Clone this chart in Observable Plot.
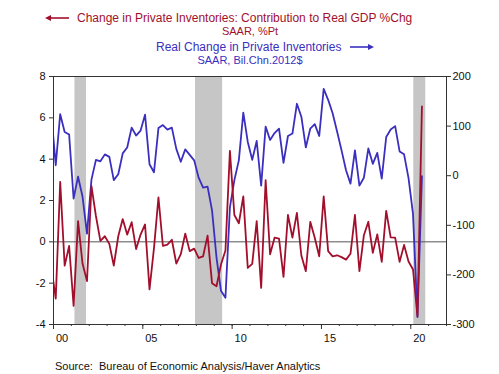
<!DOCTYPE html>
<html>
<head>
<meta charset="utf-8">
<script src="https://cdn.jsdelivr.net/npm/d3@7"></script>
<script src="https://cdn.jsdelivr.net/npm/@observablehq/plot@0.6"></script>
<style>
  html, body { margin: 0; padding: 0; background: #fff; }
  #wrap { position: relative; width: 499px; height: 374px; font-family: "Liberation Sans", Arial, sans-serif; overflow: hidden; }
  #wrap svg.plot { position: absolute; left: 0; top: 0; }
  .t { position: absolute; white-space: nowrap; line-height: 1; }
</style>
</head>
<body>
<div id="wrap"></div>
<script>
// Quarterly observations, first one is 1999 Q4 (clipped at the left edge), last is 2020 Q3
const firstYear = 1999, firstQuarter = 4;

// Change in Private Inventories: Contribution to Real GDP %Chg (SAAR, %Pt) - left axis
const contribution = [
  -1.2,
  -2.75, 2.9, -1.15, -0.2,
  -3.1, 1.0, -1.05, -1.9,
  2.7, 1.25, 0.05, 0.27,
  -0.1, -1.15, 0.27, 1.1,
  0.35, 0.95, -0.35, 0.35,
  0.84, -2.3, -0.3, 2.15,
  -0.2, -0.13, 0.1, -1.05,
  -0.6, 0.4, -0.45, -0.33,
  -0.78, -0.7, 0.3, -2.0,
  -2.15, -1.1, -0.42, 4.4,
  1.3, 0.9, 2.2, -1.26,
  -1.07, 1.0, -2.23, 2.98,
  -0.6, 0.2, 0.16, -1.7,
  1.3, 0.2, 1.4, -0.66,
  -1.42, 0.97, 0.2, -0.7,
  2.2, -0.45, -0.7, -0.65,
  -0.74, -0.86, -0.58, 1.3,
  -1.42, 0.32, 0.97, -0.53,
  0.36, -0.97, 1.5, 0.22,
  0.2, -0.97, -0.15, -0.95,
  -1.34, -3.6, 6.55
];

// Real Change in Private Inventories (SAAR, Bil.Chn.2012$) - right axis
const realChange = [
  126,
  21, 124, 88, 83,
  -46, -2, -42, -117,
  -8, 32, 29, 43,
  38, -9, 3, 45,
  57, 97, 81, 91,
  123, 23, 7, 96,
  102, 93, 97, 54,
  28, 53, 42, 31,
  -4, -24, -22, -70,
  -165, -232, -246, -64,
  -9, 31, 127, 68,
  32, 70, -20, 99,
  72, 86, 95, 26,
  80, 85, 145, 119,
  57, 95, 104, 80,
  175, 153, 126, 89,
  51, 11, -16, 51,
  -20, -4, 55, 24,
  46, -6, 78, 93,
  100, 49, 43, -5,
  -77, -285, -1
];

// Recession periods (decimal years)
const recessionStart = [2001.2, 2007.95, 2020.17];
const recessionEnd   = [2001.85, 2009.47, 2020.84];

// Tick values
const leftTicks  = [-4, -2, 0, 2, 4, 6, 8];
const rightTicks = [-300, -200, -100, 0, 100, 200];
const yearTicks  = [2000, 2005, 2010, 2015, 2020];
const minorYears = d3.range(2000, 2023);

const red = "#a20f2c";
const blue = "#3a2fbf";

// quarter midpoint positions
const t = contribution.map((_, i) => {
  const q = firstQuarter - 1 + i;
  return firstYear + Math.floor(q / 4) + (q % 4) * 0.25 + 0.125;
});
const redData = contribution.map((v, i) => ({t: t[i], v}));
const blueData = realChange.map((v, i) => ({t: t[i], v}));
const recessions = recessionStart.map((s, i) => ({s, e: recessionEnd[i]}));

// right axis (billions) mapped onto the left axis (%pt)
const toLeft = d3.scaleLinear().domain([-300, 200]).range([-4, 8]);

const chart = Plot.plot({
  width: 499,
  height: 374,
  marginTop: 76,
  marginBottom: 50,
  marginLeft: 53,
  marginRight: 53,
  style: {fontFamily: "'Liberation Sans', Arial, sans-serif", fontSize: "11px", color: "#111", background: "white"},
  x: {type: "linear", domain: [2000, 2022]},
  y: {domain: [-4, 8]},
  marks: [
    Plot.rect(recessions, {x1: "s", x2: "e", y1: -4, y2: 8, fill: "#c6c6c6"}),
    Plot.ruleY([0], {stroke: "#555", strokeWidth: 1}),
    Plot.line(blueData, {x: "t", y: d => toLeft(d.v), stroke: blue, strokeWidth: 1.8, clip: true}),
    Plot.line(redData, {x: "t", y: "v", stroke: red, strokeWidth: 1.8, clip: true}),
    Plot.frame({stroke: "#333", strokeWidth: 1}),
    Plot.axisY({anchor: "left", ticks: leftTicks, tickSize: 4, tickPadding: 4, tickFormat: d => d < 0 ? "-" + Math.abs(d) : String(d), label: null, stroke: "#333"}),
    Plot.axisY({anchor: "right", ticks: rightTicks.map(r => toLeft(r)), tickSize: 4, tickPadding: 2,
      tickFormat: d => { const r = Math.round(toLeft.invert(d)); return r < 0 ? "-" + Math.abs(r) : String(r); }, label: null, stroke: "#333"}),
    Plot.axisX({ticks: minorYears, tickSize: 2, text: null, label: null, stroke: "#333"}),
    Plot.axisX({ticks: yearTicks, tickSize: 5, text: null, label: null, stroke: "#333"}),
    Plot.axisX({ticks: yearTicks, tickSize: 0, tickPadding: 10, dx: 8.5,
      tickFormat: d => String(d % 100).padStart(2, "0"), label: null})
  ]
});
chart.classList.add("plot");
const wrap = document.getElementById("wrap");
wrap.appendChild(chart);

function arrowSvg(color, dir) {
  return `<svg width="24" height="8" viewBox="0 0 24 8" style="display:block">` +
    (dir === "left"
      ? `<line x1="4" y1="4" x2="24" y2="4" stroke="${color}" stroke-width="1.6"/><path d="M0,4 L6,1 L6,7 Z" fill="${color}"/>`
      : `<line x1="0" y1="4" x2="20" y2="4" stroke="${color}" stroke-width="1.6"/><path d="M24,4 L18,1 L18,7 Z" fill="${color}"/>`) +
    `</svg>`;
}

function addText(html, x, y, color, size, anchor) {
  const d = document.createElement("div");
  d.className = "t";
  d.innerHTML = html;
  d.style.color = color;
  d.style.fontSize = size + "px";
  d.style.top = y + "px";
  d.style.left = x + "px";
  if (anchor === "center") d.style.transform = "translateX(-50%)";
  wrap.appendChild(d);
  return d;
}

// titles
const a1 = document.createElement("div");
a1.className = "t"; a1.style.left = "45px"; a1.style.top = "14px"; a1.innerHTML = arrowSvg(red, "left");
wrap.appendChild(a1);
addText("Change in Private Inventories: Contribution to Real GDP %Chg", 77, 12, red, 12);
addText("SAAR, %Pt", 250, 26, red, 11, "center");
addText("Real Change in Private Inventories", 156, 41, blue, 12);
const a2 = document.createElement("div");
a2.className = "t"; a2.style.left = "350px"; a2.style.top = "43px"; a2.innerHTML = arrowSvg(blue, "right");
wrap.appendChild(a2);
addText("SAAR, Bil.Chn.2012$", 250, 55, blue, 11, "center");
addText("Source:&nbsp; Bureau of Economic Analysis/Haver Analytics", 55, 361, "#111", 11);
</script>
</body>
</html>
